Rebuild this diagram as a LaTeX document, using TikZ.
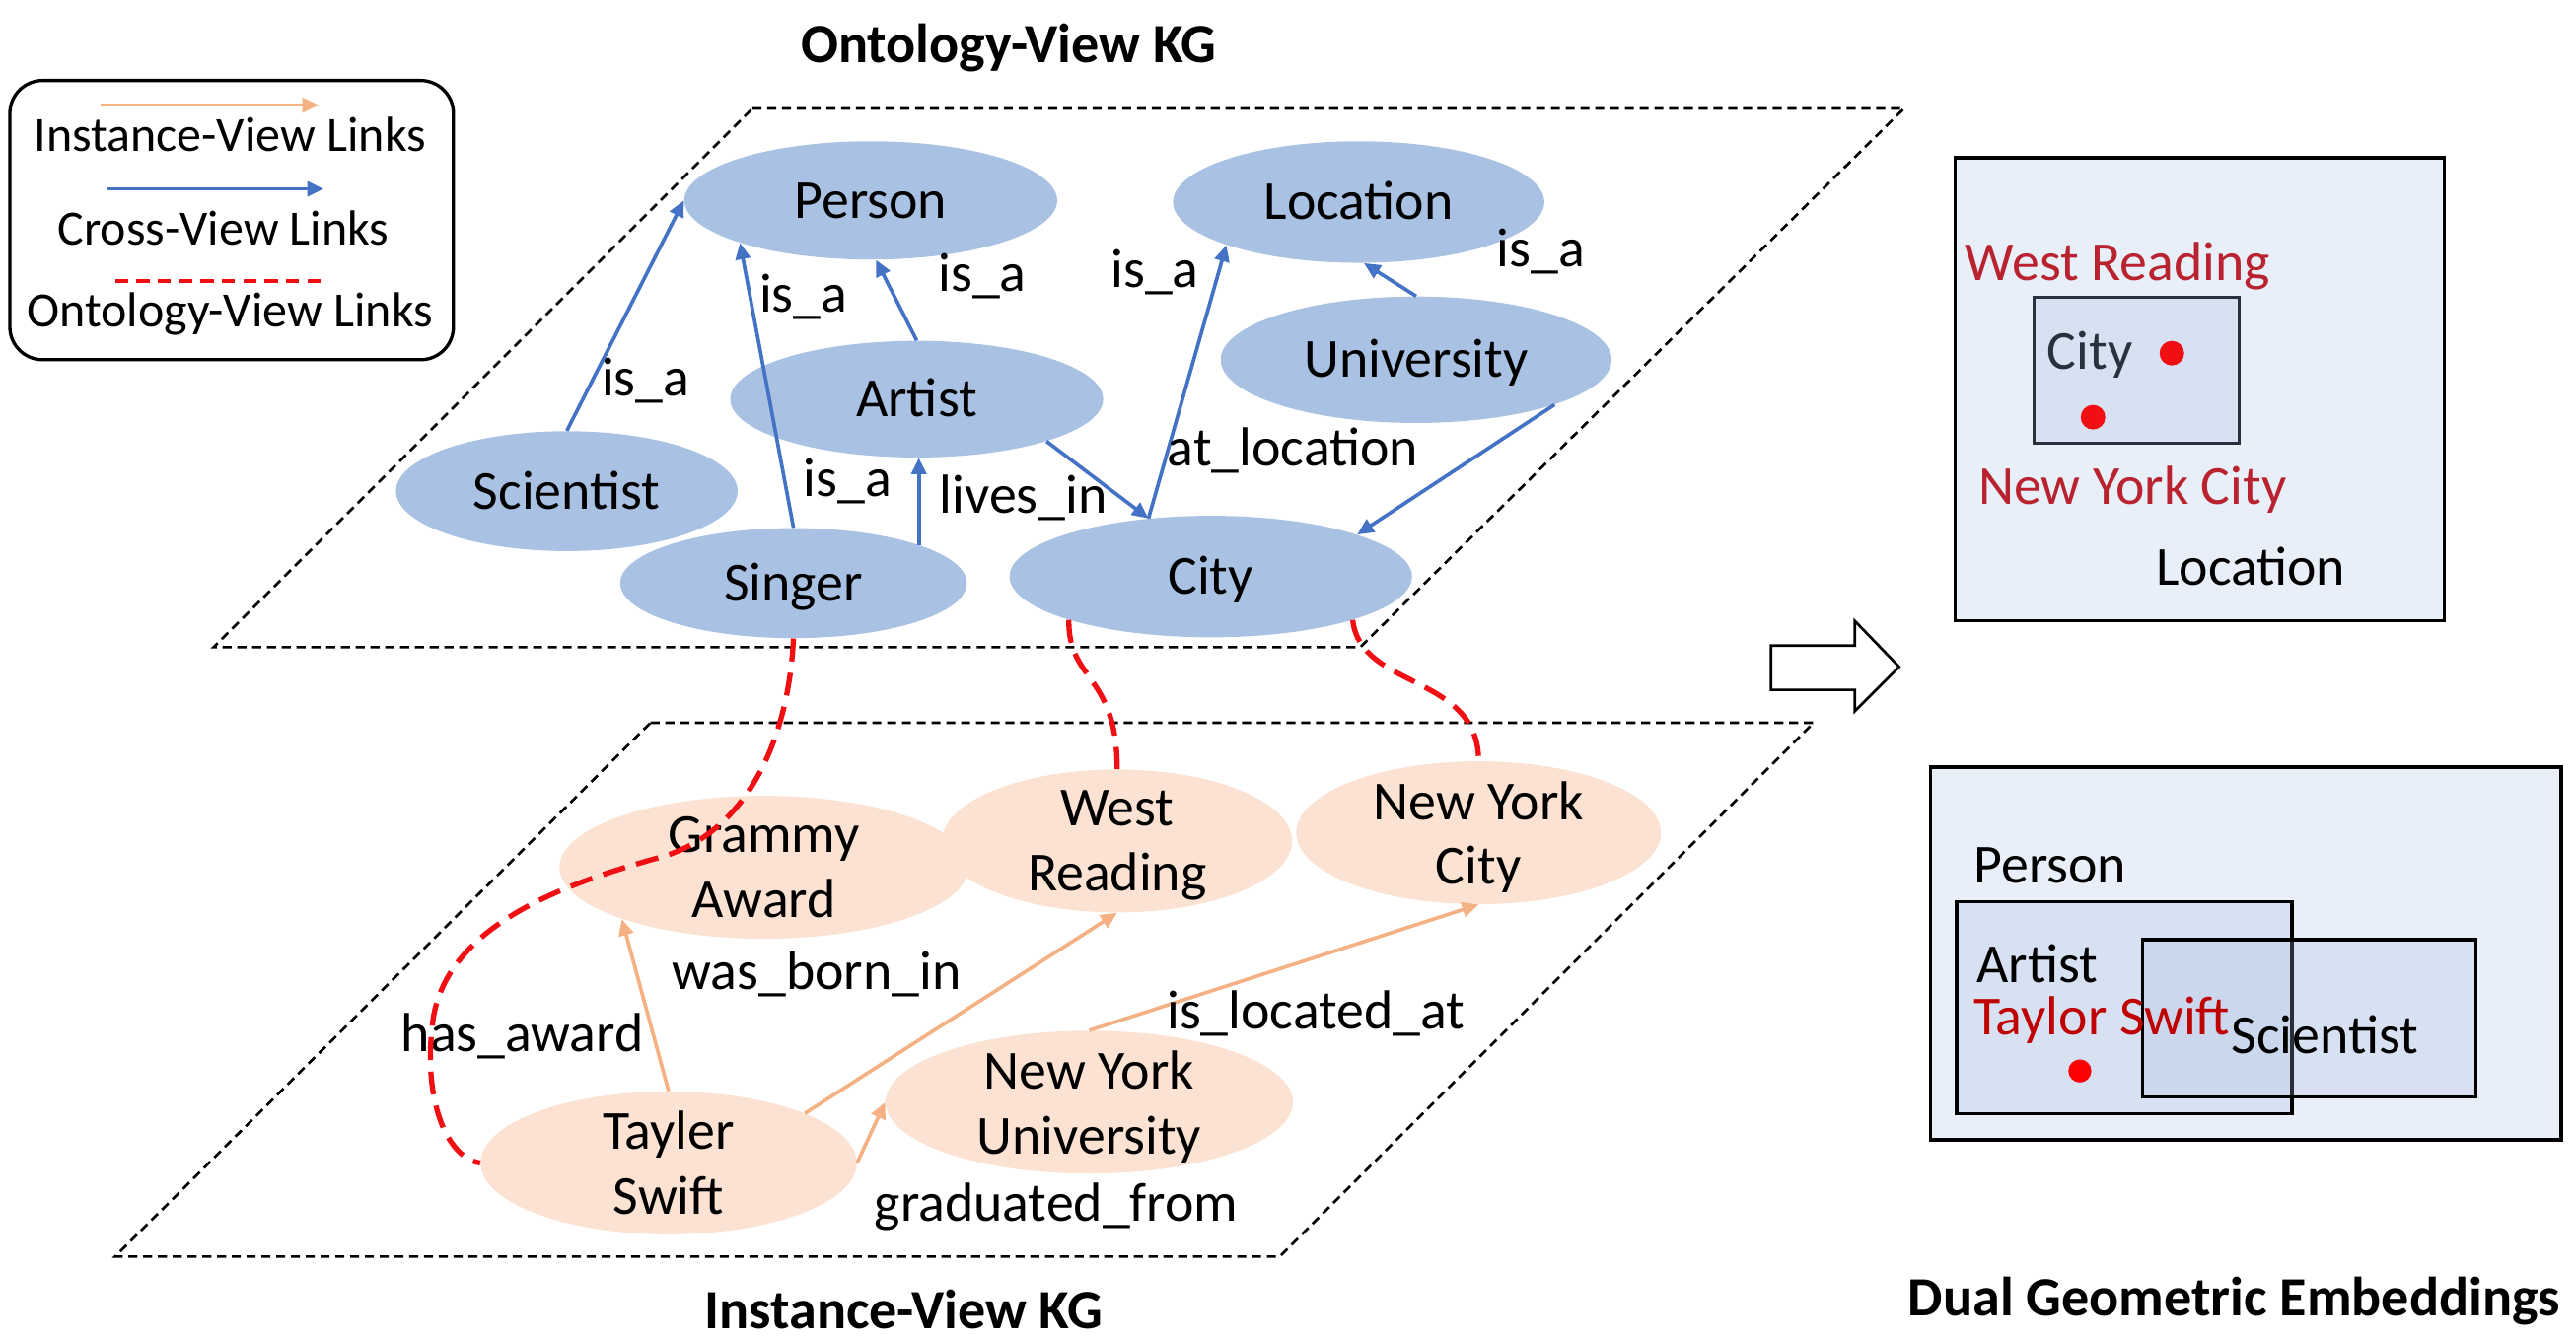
\documentclass[tikz,border=0pt]{standalone}
\usepackage{fontspec}
\setmainfont{Carlito}
\usetikzlibrary{shapes.geometric,arrows.meta}
\definecolor{ontofill}{RGB}{169,193,226}
\definecolor{instfill}{RGB}{251,226,211}
\definecolor{crossblue}{RGB}{68,114,196}
\definecolor{instorange}{RGB}{244,177,131}
\definecolor{linkred}{RGB}{240,16,20}
\definecolor{boxfill}{RGB}{233,239,248}
\definecolor{subfill}{RGB}{165,187,222}
\definecolor{slate}{RGB}{40,50,62}
\definecolor{darkred}{RGB}{185,35,48}
\begin{document}
\begin{tikzpicture}[x=1pt,y=-1pt,
  onto/.style={ellipse,fill=ontofill,inner sep=0pt,text height=21.6pt,text depth=0pt,
    font=\fontsize{33.5}{40}\selectfont},
  inst/.style={ellipse,fill=instfill,inner xsep=0pt,inner ysep=-12pt,minimum height=87pt,
    align=center,text depth=0pt,font=\fontsize{33.5}{39.5}\selectfont},
  lbl/.style={inner sep=0pt,font=\fontsize{33.5}{40}\selectfont},
  title/.style={inner sep=0pt,font=\fontsize{33.7}{40}\selectfont\bfseries},
  cross/.style={draw=crossblue,line width=2.2pt,-{Triangle[length=10pt,width=9pt]}},
  ilink/.style={draw=instorange,line width=2.2pt,-{Triangle[length=10pt,width=9pt]}},
  olink/.style={draw=linkred,line width=3.2pt,dash pattern=on 14pt off 7pt},
  plane/.style={draw,line width=1.6pt,dash pattern=on 5.5pt off 3.5pt},
  subbox/.style={fill=subfill,fill opacity=0.25,draw opacity=1,line width=2pt}]
\useasboundingbox (0,0) rectangle (1568,815);
% legend
\node[draw,line width=2pt,rounded corners=20pt,minimum width=270pt,minimum height=170pt]
  (legend) at (141,134) {};
\coordinate (io1) at (61,64);  \coordinate (io2) at (194,64);
\coordinate (cv1) at (65,115); \coordinate (cv2) at (197,115);
\coordinate (ov1) at (70,171); \coordinate (ov2) at (196,171);
\draw[ilink] (io1) -- (io2);
\draw[cross] (cv1) -- (cv2);
\draw[olink,line width=2.4pt,dash pattern=on 8pt off 5pt] (ov1) -- (ov2);
\node[lbl,font=\fontsize{30}{36}\selectfont] (legio) at (140,82) {Instance-View Links};
\node[lbl,font=\fontsize{30}{36}\selectfont] (legcv) at (136,139) {Cross-View Links};
\node[lbl,font=\fontsize{30}{36}\selectfont] (legov) at (140,191) {Ontology-View Links};
% the two planes
\draw[plane] (458,66) -- (1159,66) -- (828,394) -- (130,394) -- cycle;
\draw[plane] (396,440) -- (1104,440) -- (779,765) -- (70,765) -- cycle;
\node[title] (ontotitle) at (614,29) {Ontology-View KG};
\node[title] (insttitle) at (550,797) {Instance-View KG};
% ontology-view concepts
\foreach \n/\x/\y/\w/\h/\t in {person/530/122/227/72/Person, location/827/123/226/74/Location,
    university/862/219/238/77/University, artist/558/243/227/71/Artist,
    scientist/345/299/208/73/Scientist, singer/483/355/211/67/Singer, city/737/351/245/74/City}
  \node[onto,minimum width=\w pt,minimum height=\h pt] (\n) at (\x,\y) {\t};
\draw[cross] (scientist.north) -- (person.west);
\draw[cross] (singer.north) -- (person.198);
\draw[cross] (artist.north) -- (person.275);
\draw[cross] (singer.17) -- (singer.17 |- artist.south);
\draw[cross] (artist.342) -- (city.137);
\draw[cross] (city.137) -- (location.198);
\draw[cross] (university.north) -- (location.275);
\draw[cross] (university.342) -- (city.16);
\node[lbl] (isa1) at (393,232) {is\_a};
\node[lbl] (isa2) at (489,181) {is\_a};
\node[lbl] (isa3) at (598,168) {is\_a};
\node[lbl] (isa4) at (516,293) {is\_a};
\node[lbl] (isa5) at (703,166) {is\_a};
\node[lbl] (isa6) at (938,153) {is\_a};
\node[lbl] (livesin) at (623,303) {lives\_in};
\node[lbl] (atloc) at (787,274) {at\_location};
% instance-view entities
\foreach \n/\x/\y/\w/\t in {grammy/465/528/249/{Grammy\\Award}, westreading/680/512/213/{West\\Reading},
    nyc/900/507/222/{New York\\City}, tayler/407/708/229/{Tayler\\Swift},
    nyu/663/671/248/{New York\\University}}
  \node[inst,minimum width=\w pt] (\n) at (\x,\y) {\t};
\draw[ilink] (tayler.north) -- (grammy.200);
\draw[ilink] (tayler.20) -- (westreading.south);
\draw[ilink] (tayler.east) -- (nyu.west);
\draw[ilink] (nyu.north) -- (nyc.south);
\node[lbl] (hasaward) at (318,631) {has\_award};
\node[lbl] (bornin) at (497,593) {was\_born\_in};
\node[lbl] (gradfrom) at (643,735) {graduated\_from};
\node[lbl] (locatedat) at (801,617) {is\_located\_at};
% links between the views
\draw[olink] (singer.south) .. controls (480,450) and (455,505) .. (405,521)
  .. controls (355,535) and (268,560) .. (263,626)
  .. controls (258,670) and (272,705) .. (tayler.west);
\draw[olink] (city.197) .. controls (650,415) and (680,410) .. (westreading.north);
\draw[olink] (city.343) .. controls (828,420) and (900,410) .. (nyc.north);
% arrow to the embeddings
\draw[line width=1.6pt,fill=white] (1078,393) -- (1129,393) -- (1129,378) -- (1156,406)
  -- (1129,433) -- (1129,420) -- (1078,420) -- cycle;
% box embedding of locations
\draw[line width=2pt,fill=boxfill] (1190,96) rectangle (1488,378);
\draw[subbox,draw=slate] (1238,181) rectangle (1363,270);
\node[lbl,anchor=west,text=darkred] (wrbox) at (1196,162) {West Reading};
\node[lbl,anchor=west,text=slate] (citybox) at (1246,216) {City};
\node[lbl,anchor=west,text=darkred] (nycbox) at (1204,298) {New York City};
\node[lbl] (locbox) at (1370,345) {Location};
\fill[linkred] (1322,215) circle[radius=7.5];
\fill[linkred] (1274,254) circle[radius=7.5];
% box embedding of persons
\draw[line width=2pt,fill=boxfill] (1175,467) rectangle (1559,694);
\draw[subbox] (1191,549) rectangle (1395,678);
\draw[subbox] (1304,572) rectangle (1507,668);
\node[lbl] (personbox) at (1248,527) {Person};
\node[lbl] (artistbox) at (1240,587) {Artist};
\node[lbl,anchor=west,text={rgb,255:red,192;green,0;blue,0}] (tsbox) at (1201,621) {Taylor Swift};
\node[lbl,anchor=west] (scibox) at (1358,630) {Scientist};
\fill[red] (1266,652) circle[radius=7];
\node[title] (dualtitle) at (1360,792) {Dual Geometric Embeddings};
\end{tikzpicture}
\end{document}
